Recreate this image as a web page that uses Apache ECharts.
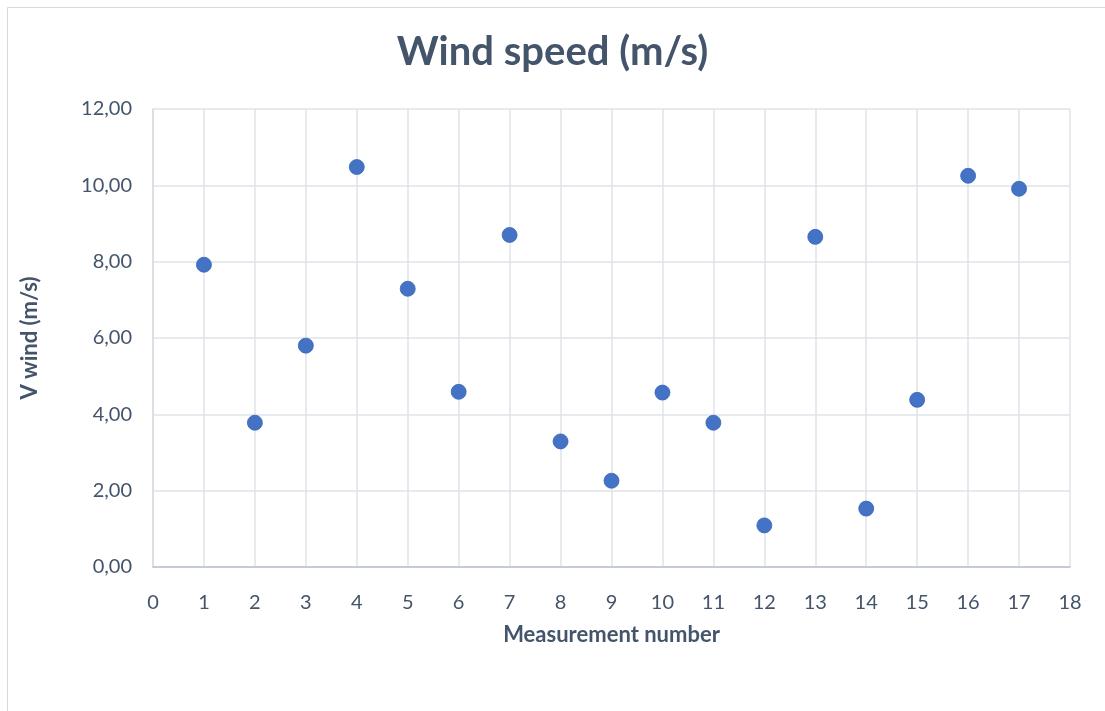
<!DOCTYPE html>
<html>
<head>
<meta charset="utf-8">
<script src="https://cdn.jsdelivr.net/npm/echarts@6/dist/echarts.min.js"></script>
<style>
html,body{margin:0;padding:0;background:#fff;}
#c{width:1105px;height:711px;}
</style>
</head>
<body>
<div id="c"></div>
<script>
const measurementNumbers = [1,2,3,4,5,6,7,8,9,10,11,12,13,14,15,16,17];
const windSpeeds = [7.92,3.78,5.80,10.48,7.29,4.59,8.70,3.29,2.26,4.57,3.78,1.09,8.65,1.53,4.38,10.25,9.91];
const titleText = "Wind speed (m/s)";
const xAxisName = "Measurement number";
const yAxisName = "V wind (m/s)";

const points = measurementNumbers.map((n, i) => [n, windSpeeds[i]]);
const chart = echarts.init(document.getElementById('c'), null, {renderer: 'canvas'});
const font = 'Lato, "Open Sans", sans-serif';
const txt = '#44546A';
chart.setOption({
  backgroundColor: '#fff',
  animation: false,
  graphic: [{
    type: 'rect', shape: {x: 7.5, y: 7.5, width: 1200, height: 800},
    style: {fill: 'none', stroke: '#d9d9d9', lineWidth: 1}, silent: true
  }],
  title: {
    text: titleText, left: 'center', top: 27,
    textStyle: {fontFamily: font, fontSize: 40, fontWeight: 'bold', color: txt}
  },
  grid: {left: 153, right: 35, top: 109, bottom: 144, containLabel: false},
  xAxis: {
    type: 'value', min: 0, max: 18, interval: 1,
    name: xAxisName, nameLocation: 'middle', nameGap: 57,
    nameTextStyle: {fontFamily: font, fontSize: 22, fontWeight: 'bold', color: txt},
    axisLine: {show: true, lineStyle: {color: '#b9c1cf', width: 1.5}},
    axisTick: {show: false},
    axisLabel: {margin: 26, fontFamily: font, fontSize: 20, color: txt},
    splitLine: {show: true, lineStyle: {color: '#dfe3ea', width: 1.5}}
  },
  yAxis: {
    type: 'value', min: 0, max: 12, interval: 2,
    name: yAxisName, nameLocation: 'middle', nameGap: 112, nameRotate: 90,
    nameTextStyle: {fontFamily: font, fontSize: 22, fontWeight: 'bold', color: txt},
    axisLine: {show: true, lineStyle: {color: '#d6dbe3', width: 1.5}},
    axisTick: {show: false},
    axisLabel: {margin: 21, fontFamily: font, fontSize: 20, color: txt,
      formatter: v => v.toFixed(2).replace('.', ',')},
    splitLine: {show: true, lineStyle: {color: '#dfe3ea', width: 1.5}}
  },
  series: [{
    type: 'scatter', data: points, symbol: 'circle', symbolSize: 15,
    itemStyle: {color: '#4472C4', opacity: 1, borderColor: '#3a65b5', borderWidth: 0.8}
  }]
});
</script>
</body>
</html>
